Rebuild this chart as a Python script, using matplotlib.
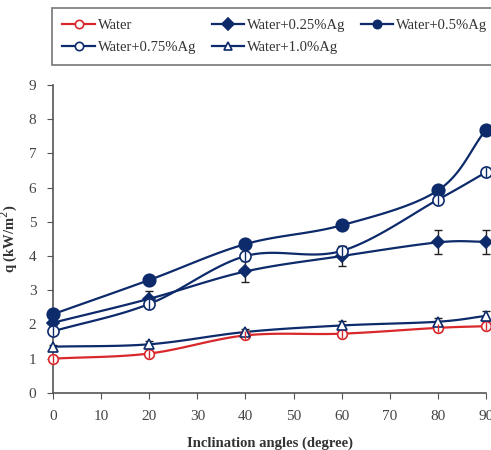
import numpy as np
import matplotlib.pyplot as plt
plt.switch_backend('Agg')

plt.rcParams['font.family'] = ['Liberation Serif', 'DejaVu Serif']

# 数据
angles = [0, 20, 40, 60, 80, 90]
q_water = [1.0, 1.15, 1.68, 1.73, 1.90, 1.95]
q_025 = [2.05, 2.75, 3.55, 4.00, 4.40, 4.42]
q_05 = [2.30, 3.30, 4.35, 4.90, 5.92, 7.70]
q_075 = [1.80, 2.60, 4.00, 4.15, 5.65, 6.45]
q_10 = [1.35, 1.42, 1.78, 1.97, 2.08, 2.25]
err_water = [0.05, 0.05, 0.08, 0.06, 0.08, 0.06]
err_025 = [0.08, 0.22, 0.30, 0.30, 0.35, 0.35]
err_05 = [0.05, 0.06, 0.06, 0.06, 0.08, 0.08]
err_075 = [0.08, 0.08, 0.10, 0.15, 0.10, 0.10]
err_10 = [0.06, 0.10, 0.10, 0.12, 0.12, 0.15]

labels = ['Water', 'Water+0.25%Ag', 'Water+0.5%Ag', 'Water+0.75%Ag', 'Water+1.0%Ag']

navy = '#0d2a6b'
red = '#d8282c'


def smooth(x, y, n=20):
    # Excel 风格平滑线 (Catmull-Rom)
    x = np.asarray(x, float)
    y = np.asarray(y, float)
    px = np.concatenate([[2 * x[0] - x[1]], x, [2 * x[-1] - x[-2]]])
    py = np.concatenate([[2 * y[0] - y[1]], y, [2 * y[-1] - y[-2]]])
    xs, ys = [], []
    t = np.linspace(0, 1, n)
    for i in range(1, len(px) - 2):
        p0, p1, p2, p3 = [np.array([px[j], py[j]]) for j in range(i - 1, i + 3)]
        for tt in t:
            pt = 0.5 * ((2 * p1) + (-p0 + p2) * tt + (2 * p0 - 5 * p1 + 4 * p2 - p3) * tt ** 2
                        + (-p0 + 3 * p1 - 3 * p2 + p3) * tt ** 3)
            xs.append(pt[0])
            ys.append(pt[1])
    return xs, ys


fig = plt.figure(figsize=(4.91, 4.5), dpi=100)
ax = fig.add_axes([0.108, 0.127, 0.882, 0.684])

series = [
    (q_water, err_water, red, 'o', 'white', 7),
    (q_025, err_025, navy, 'D', navy, 6),
    (q_05, err_05, navy, 'o', navy, 9),
    (q_075, err_075, navy, 'o', 'white', 8),
    (q_10, err_10, navy, '^', 'white', 7),
]

handles = []
for (vals, err, col, mk, fc, ms), lab in zip(series, labels):
    sx, sy = smooth(angles, vals)
    ax.plot(sx, sy, color=col, lw=1.6, zorder=2, clip_on=False)
    ax.errorbar(angles, vals, yerr=err, fmt='none', ecolor='#222222', elinewidth=1.0,
                capsize=3, zorder=3, clip_on=False)
    if mk == 'o' and fc == 'white':
        # 带十字的空心圆
        ax.plot(angles, vals, ls='none', marker=mk, mfc=fc, mec=col, ms=ms, mew=1.2,
                zorder=4, clip_on=False)
        ax.plot(angles, vals, ls='none', marker='|', mec=col, ms=ms - 1, mew=1.0,
                zorder=5, clip_on=False)
    else:
        ax.plot(angles, vals, ls='none', marker=mk, mfc=fc, mec=col, ms=ms, mew=1.2,
                zorder=4, clip_on=False)
    h, = ax.plot([], [], color=col, lw=1.6, marker=mk, mfc=fc, mec=col,
                 ms=min(ms, 6), mew=1.2, label=lab)
    handles.append(h)

ax.set_xlim(0, 90)
ax.set_ylim(0, 9)
ax.set_xticks(range(0, 91, 10))
ax.set_yticks(range(0, 10))
for s in ['top', 'right']:
    ax.spines[s].set_visible(False)
for s in ['left', 'bottom']:
    ax.spines[s].set_color('#555555')
    ax.spines[s].set_linewidth(1.2)
ax.tick_params(axis='both', direction='out', length=4, color='#555555',
               labelsize=11, labelcolor='#444444', pad=8)

ax.set_xlabel('Inclination angles (degree)', fontsize=10.5, fontweight='bold',
              color='#333333', labelpad=10)
ax.set_ylabel('q (kW/m$^2$)', fontsize=10.5, fontweight='bold', color='#333333',
              labelpad=6)

# 图例: 按行排列
order = [0, 3, 1, 4, 2]
leg = fig.legend([handles[i] for i in order], [labels[i] for i in order],
                 ncol=3, loc='upper left', bbox_to_anchor=(0.105, 0.85, 0.91, 0.133),
                 mode='expand', frameon=True, fancybox=False, fontsize=10.5,
                 handlelength=2.2, handletextpad=0.2, columnspacing=1.0,
                 borderpad=0.75, labelspacing=0.6, borderaxespad=0)
leg.get_frame().set_edgecolor('#555555')
leg.get_frame().set_linewidth(1.2)
for t in leg.get_texts():
    t.set_color('#333333')

fig.savefig('out.png', dpi=100)
plt.close(fig)
